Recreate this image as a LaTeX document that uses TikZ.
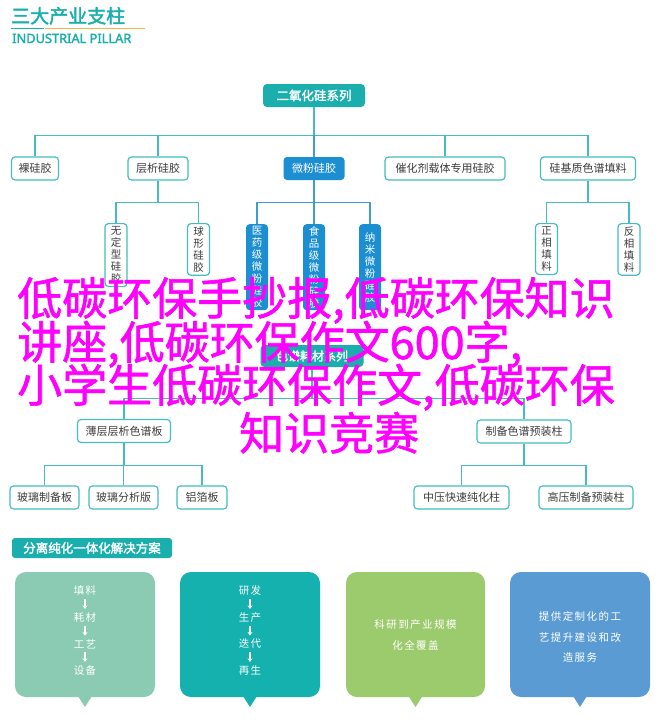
\documentclass[tikz,border=0pt]{standalone}
\usepackage{fontspec}
\newfontfamily\cjk{Noto Sans CJK SC}
\newfontfamily\cjkb{Noto Sans CJK SC}[FakeBold=2]
\newfontfamily\cjkm{Noto Sans CJK SC}[FakeBold=1.3]
\newfontfamily\latinb{Noto Sans}[FakeBold=2]
\usetikzlibrary{arrows.meta}
\definecolor{teal1}{HTML}{1AAFAD}
\definecolor{tline}{HTML}{45BDC0}
\definecolor{bnode}{HTML}{1C8FD3}
\definecolor{bline}{HTML}{3E9BD8}
\definecolor{orng}{HTML}{F6B443}
\definecolor{txtg}{HTML}{3C3C3C}
\definecolor{mag}{HTML}{FF00FF}
\definecolor{cb1}{HTML}{8BCBB4}
\definecolor{cb2}{HTML}{14B1AE}
\definecolor{cb3}{HTML}{9CCB6D}
\definecolor{cb4}{HTML}{5A9BD4}
\begin{document}
\begin{tikzpicture}[x=1pt,y=-1pt,
 wbox/.style={draw=tline, line width=1.2pt, fill=white, rounded corners=3.5pt, text=txtg, font=\cjk\fontsize{11}{13}\selectfont, minimum height=23pt, inner xsep=3pt, inner ysep=0pt},
 tbox/.style={fill=teal1, rounded corners=4pt, text=white, font=\cjkb\fontsize{12.5}{14}\selectfont, minimum height=23pt, inner sep=0pt},
 bbox/.style={fill=bnode, rounded corners=3.5pt, text=white, font=\cjk\fontsize{11}{13}\selectfont, minimum height=23pt, inner sep=0pt},
 vwbox/.style={draw=tline, line width=1.2pt, fill=white, rounded corners=3.5pt, text=txtg, font=\cjk\fontsize{10.5}{12}\selectfont, align=center, minimum width=22pt, inner xsep=0pt, inner ysep=3pt, anchor=north},
 vbbox/.style={fill=bnode, rounded corners=3.5pt, text=white, font=\cjk\fontsize{10.5}{12}\selectfont, align=center, minimum width=22pt, minimum height=86pt, inner xsep=0pt, inner ysep=2pt, anchor=north},
 tconn/.style={draw=tline, line width=1.3pt},
 bconn/.style={draw=bline, line width=1.3pt},
 ctext/.style={text=white, inner sep=0pt, align=center, font=\cjk\fontsize{10.5}{20.3}\selectfont\addfontfeatures{LetterSpace=14}},
 carrow/.style={draw=white, line width=1.1pt, -{Stealth[length=3.5pt,width=5pt]}, shorten <=3pt, shorten >=3.5pt},
 magt/.style={anchor=base west, text=mag, inner sep=0pt, font=\cjkm\fontsize{45}{45}\selectfont}
]
\useasboundingbox (0,0) rectangle (660,720);
\fill[white] (0,0) rectangle (660,720);

% header
\node[anchor=base west, text=teal1, inner sep=0pt, font=\cjkb\fontsize{19}{20}\selectfont] (hd) at (11,23) {三大产业支柱};
\draw[teal1, line width=1.6pt] (hd.base west |- 0,28.3) -- ++(33,0);
\draw[orng, line width=1.6pt] (45,28.3) -- (145,28.3);
\node[anchor=base west, text=teal1, inner sep=0pt, font=\latinb\fontsize{12.8}{14}\selectfont] (sub) at (12,43) {INDUSTRIAL PILLAR};

% tree 1
\node[tbox, minimum width=102pt] (root) at (314,95.5) {二氧化硅系列};
\node[wbox, minimum width=47pt] (n1) at (35,168.5) {裸硅胶};
\node[wbox, minimum width=60pt] (n2) at (158,168.5) {层析硅胶};
\node[bbox, minimum width=61pt] (n3) at (314,168.5) {微粉硅胶};
\node[wbox, minimum width=120pt] (n4) at (445,168.5) {催化剂载体专用硅胶};
\node[wbox, minimum width=95pt] (n5) at (588,168.5) {硅基质色谱填料};

\node[vwbox] (v1) at (116,223) {无\\定\\型\\硅\\胶};
\node[vwbox] (v2) at (198.5,223) {球\\形\\硅\\胶};
\node[vbbox] (m1) at (257,224) {医\\药\\级\\微\\粉\\硅\\胶};
\node[vbbox] (m2) at (314,224) {食\\品\\级\\微\\粉\\硅\\胶};
\node[vbbox] (m3) at (370,224) {纳\\米\\微\\粉\\硅\\胶};
\node[vwbox] (z1) at (546.5,223) {正\\相\\填\\料};
\node[vwbox] (z2) at (629,223) {反\\相\\填\\料};

\foreach \c in {n1,n2,n4,n5} \draw[tconn] (root.south) -- ++(0,28) -| (\c.north);
\draw[tconn] (root.south) -- ++(0,28);
\draw[bconn] (n3.north) -- ++(0,-22);
\foreach \c in {v1,v2} \draw[tconn] (n2.south) -- ++(0,22) -| (\c.north);
\foreach \c in {m1,m2,m3} \draw[bconn] (n3.south) -- ++(0,22) -| (\c.north);
\foreach \c in {z1,z2} \draw[tconn] (n5.south) -- ++(0,22) -| (\c.north);

% tree 2
\node[tbox, minimum width=103pt, minimum height=22pt, font=\cjkb\fontsize{12}{14}\selectfont] (r2) at (312,356) {色谱耗材系列};
\node[wbox, minimum width=93pt] (p1) at (124,431) {薄层层析色谱板};
\node[wbox, minimum width=94pt] (p2) at (524,431.5) {制备色谱预装柱};
\node[wbox, minimum width=69pt] (q1) at (44.5,497.5) {玻璃制备板};
\node[wbox, minimum width=69pt] (q2) at (123.5,497.5) {玻璃分析版};
\node[wbox, minimum width=50pt] (q3) at (202,497.5) {铝箔板};
\node[wbox, minimum width=95pt] (q4) at (461.5,497.5) {中压快速纯化柱};
\node[wbox, minimum width=94pt] (q5) at (586,497.5) {高压制备预装柱};

\foreach \c in {p1,p2} \draw[tconn] (r2.south) -- ++(0,31) -| (\c.north);
\foreach \c in {q1,q2,q3} \draw[tconn] (p1.south) -- ++(0,22.5) -| (\c.north);
\foreach \c in {q4,q5} \draw[tconn] (p2.south) -- ++(0,22) -| (\c.north);

% bottom section
\node[tbox, minimum width=160pt, minimum height=20pt, rounded corners=3pt] (lab) at (92,548) {分离纯化一体化解决方案};

\foreach \xa/\xb/\c in {15/155/cb1, 180/320/cb2, 346/485/cb3, 510/650/cb4} {
  \fill[\c, rounded corners=11pt] (\xa,572) rectangle (\xb,697);
  \fill[\c] ({(\xa+\xb)/2-7},696) -- ({(\xa+\xb)/2+7},696) -- ({(\xa+\xb)/2},707) -- cycle;
}

\node[ctext] (a1) at (85,591) {填料};
\node[ctext] (a2) at (85,617.5) {耗材};
\node[ctext] (a3) at (85,644) {工艺};
\node[ctext] (a4) at (85,670.5) {设备};
\draw[carrow] (a1) -- (a2);
\draw[carrow] (a2) -- (a3);
\draw[carrow] (a3) -- (a4);

\node[ctext] (b1) at (250,591) {研发};
\node[ctext] (b2) at (250,617.5) {生产};
\node[ctext] (b3) at (250,644) {迭代};
\node[ctext] (b4) at (250,670.5) {再生};
\draw[carrow] (b1) -- (b2);
\draw[carrow] (b2) -- (b3);
\draw[carrow] (b3) -- (b4);

\node[ctext] (c1) at (415.5,635) {科研到产业规模\\化全覆盖};
\node[ctext] (d1) at (580,637) {提供定制化的工\\艺提升建设和改\\造服务};

% magenta overlay text
\node[magt] (t1) at (17,315) {低碳环保手抄报,低碳环保知识};
\node[magt] (t2) at (17,359) {讲座,低碳环保作文600字,};
\node[magt] (t3) at (17,402) {小学生低碳环保作文,低碳环保};
\node[magt] (t4) at (239,450) {知识竞赛};
\end{tikzpicture}
\end{document}
